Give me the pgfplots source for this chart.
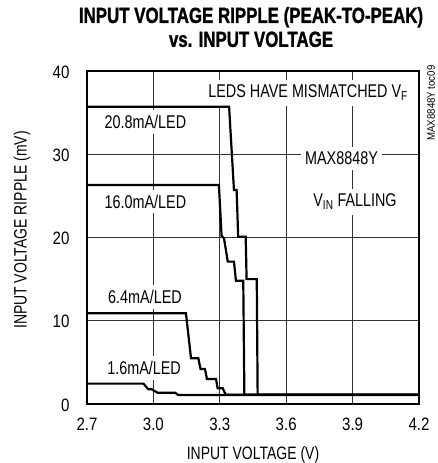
\documentclass[border=0pt]{standalone}
\usepackage{fontspec}
\setmainfont{Liberation Sans}[FakeStretch=0.78]
\newfontfamily\titlefont{Liberation Sans Bold}[FakeStretch=0.77,FakeBold=1.2]
\newfontfamily\smallfont{Liberation Sans}[FakeStretch=0.88]
\newfontfamily\tickfont{Liberation Sans}[FakeStretch=0.84]
\usepackage{pgfplots}
\pgfplotsset{compat=1.18}
\newcommand\lab{\fontsize{18.5}{22}\selectfont}

\pgfplotstableread{
x y
2.700 35.7
3.342 35.7
3.364 25.7
3.376 25.7
3.383 20.1
3.417 20.1
3.421 15.0
3.467 15.0
3.471 1.1
4.200 1.1
}\seriesA
\pgfplotstableread{
x y
2.700 26.3
3.296 26.3
3.308 20.2
3.319 19.9
3.336 17.1
3.364 17.1
3.373 14.8
3.406 14.8
3.411 1.1
4.200 1.1
}\seriesB
\pgfplotstableread{
x y
2.700 10.9
3.147 10.9
3.170 5.5
3.203 5.5
3.213 4.2
3.233 4.2
3.242 3.0
3.283 3.0
3.290 1.9
3.313 1.9
3.327 1.1
4.200 1.1
}\seriesC
\pgfplotstableread{
x y
2.700 2.45
2.955 2.45
2.977 1.77
2.992 1.77
3.018 1.36
3.098 1.36
3.112 1.08
4.200 1.08
}\seriesD

\begin{document}
\begin{tikzpicture}
\path[use as bounding box] (0bp,0bp) rectangle (438bp,463bp);
\begin{axis}[
  at={(87bp,59bp)}, anchor=south west,
  scale only axis, width=332bp, height=333bp,
  xmin=2.7, xmax=4.2, ymin=0, ymax=40,
  xtick={2.7,3.0,3.3,3.6,3.9,4.2},
  ytick={0,10,20,30,40},
  x tick label style={/pgf/number format/fixed,/pgf/number format/fixed zerofill,/pgf/number format/precision=1, yshift=-10bp},
  y tick label style={xshift=-14bp, yshift=-1bp},
  tick label style={font=\tickfont\fontsize{18}{21}\selectfont},
  /pgf/number format/assume math mode=true,
  grid=major, major grid style={line width=0.9bp, black!80},
  major tick length=0pt,
  axis line style={line width=2.6bp},
  xlabel={INPUT VOLTAGE (V)},
  ylabel={INPUT VOLTAGE RIPPLE (mV)},
  label style={font=\fontsize{18}{21}\selectfont},
  xlabel style={at={(rel axis cs:0.5,-0.153)}, anchor=center},
  ylabel style={at={(rel axis cs:-0.196,0.5225)}, anchor=center},
  title={INPUT VOLTAGE RIPPLE (PEAK-TO-PEAK)\\vs. INPUT VOLTAGE},
  title style={at={(rel axis cs:0.494,1.114)}, anchor=center, align=center, font=\titlefont\fontsize{22}{24}\selectfont},
]
\tikzset{lbl/.style={fill=white, inner xsep=4bp, inner ysep=5bp, anchor=base, font=\lab}}
\node[lbl] at (axis cs:3.699,36.80) {LEDS HAVE MISMATCHED V\textsubscript{F}};
\node[lbl] at (axis cs:2.964,33.08) {20.8mA/LED};
\node[lbl] at (axis cs:2.964,23.51) {16.0mA/LED};
\node[lbl] at (axis cs:2.962,12.06) {6.4mA/LED};
\node[lbl] at (axis cs:2.958,3.53) {1.6mA/LED};
\node[lbl] at (axis cs:3.850,28.76) {MAX8848Y};
\node[lbl] at (axis cs:3.911,23.71) {V\textsubscript{IN} FALLING};
\addplot[black, line width=2.2bp, line join=miter] table[x=x,y=y] {\seriesA};
\addplot[black, line width=2.2bp, line join=miter] table[x=x,y=y] {\seriesB};
\addplot[black, line width=2.2bp, line join=miter] table[x=x,y=y] {\seriesC};
\addplot[black, line width=2.2bp, line join=miter] table[x=x,y=y] {\seriesD};
\end{axis}
\node[rotate=90, inner sep=0pt, font=\smallfont\fontsize{11}{13}\selectfont] at (431bp,360bp) {MAX8848Y toc09};
\end{tikzpicture}
\end{document}
